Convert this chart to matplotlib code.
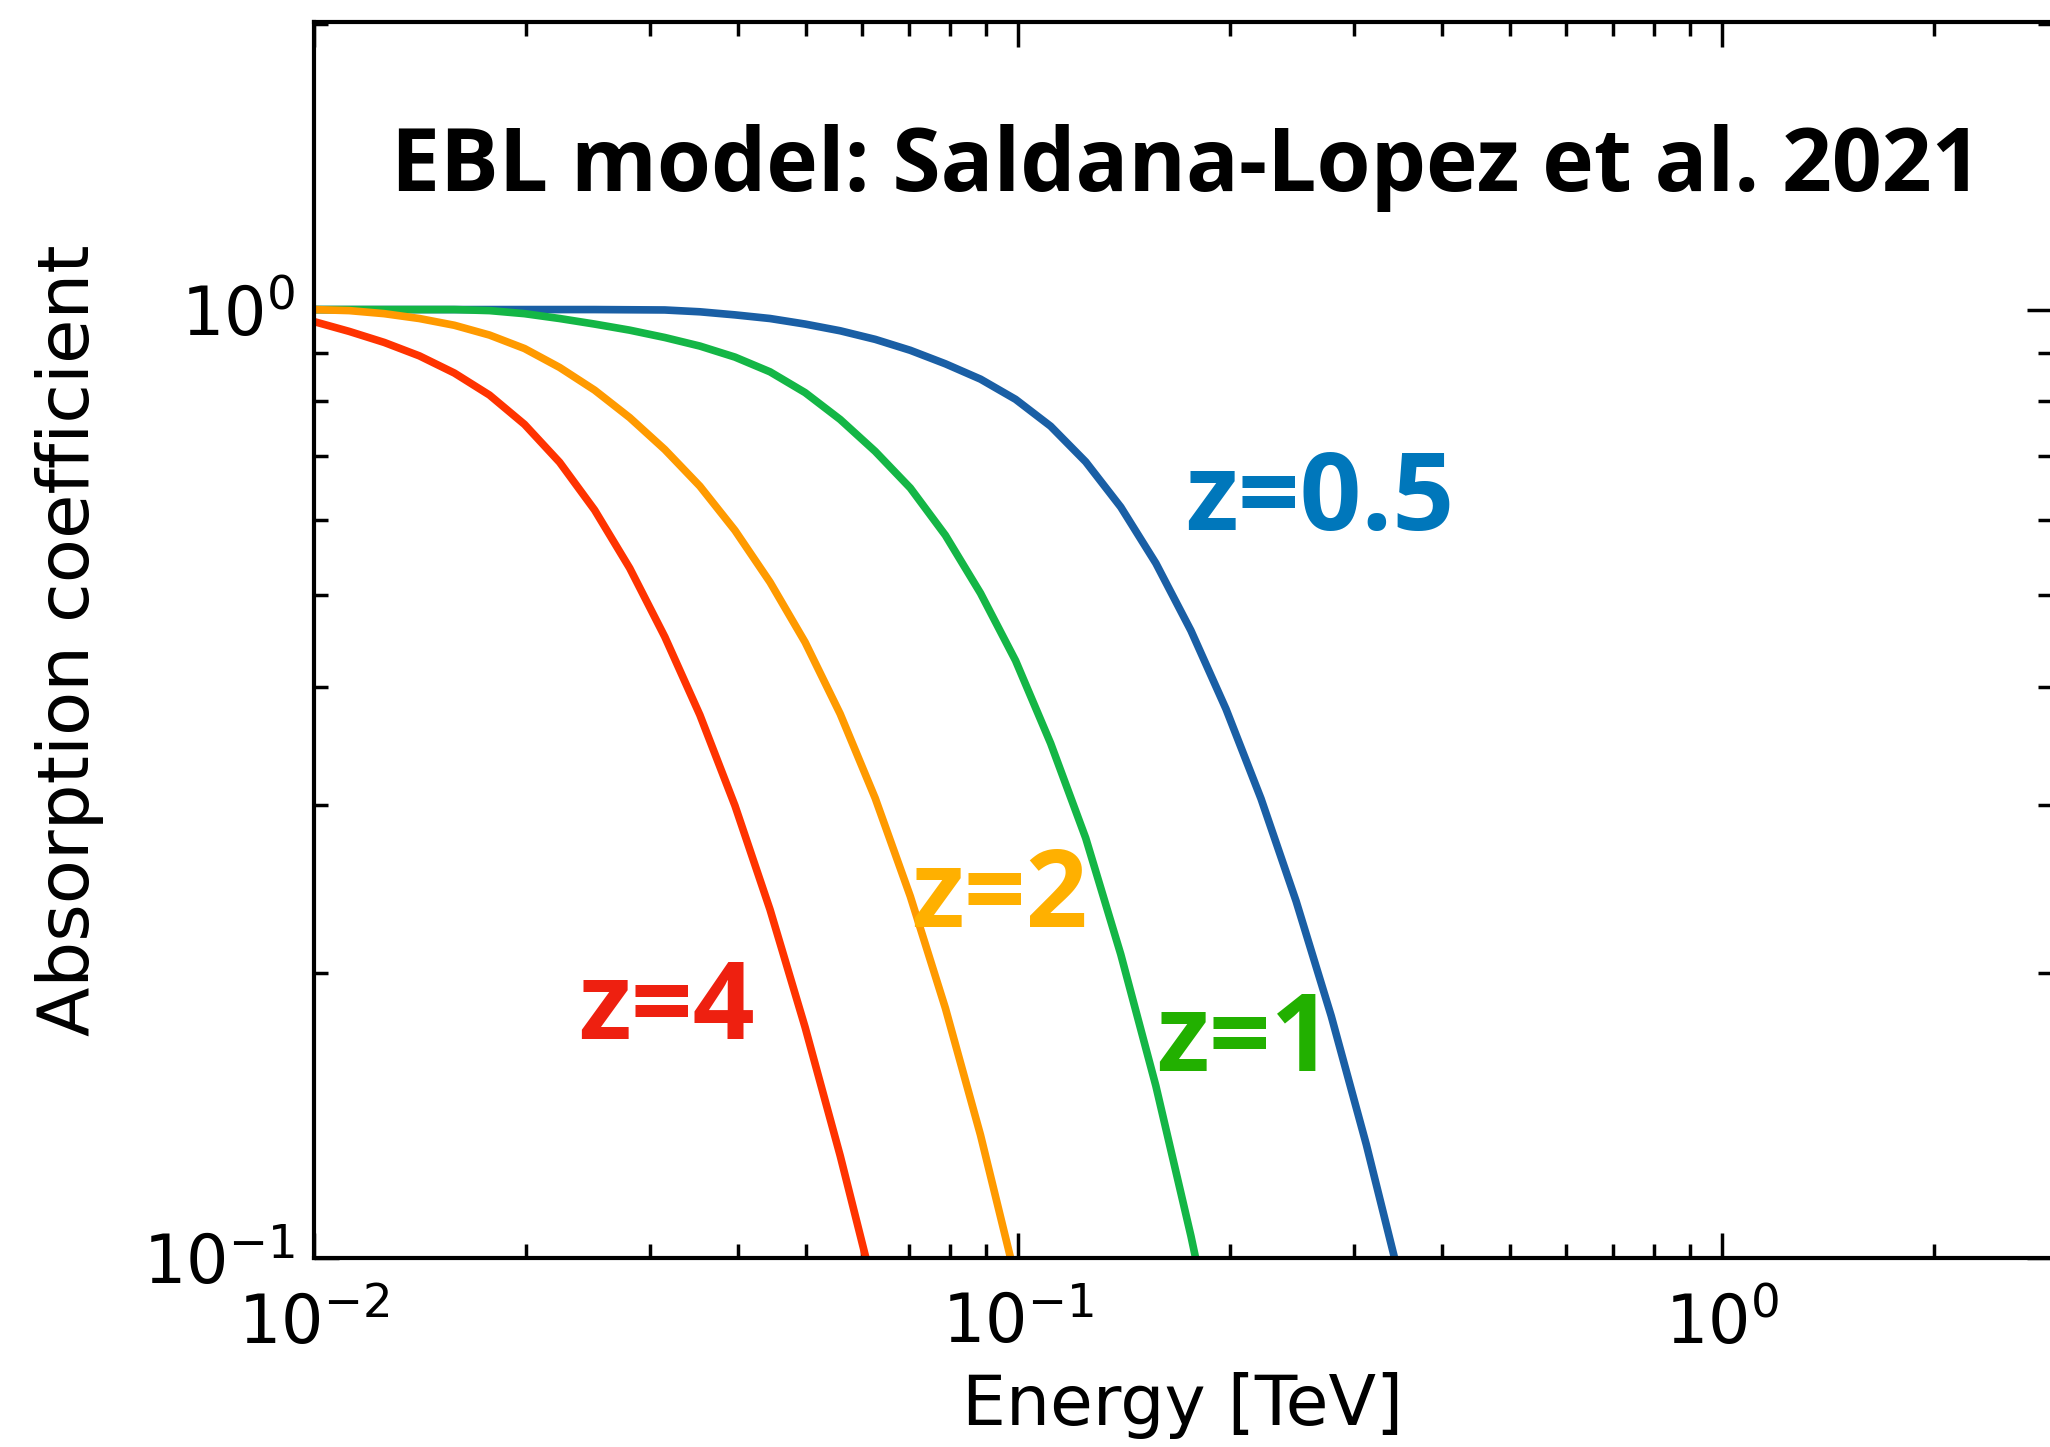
import matplotlib
matplotlib.use('Agg')
import matplotlib.pyplot as plt

# gamma-ray absorption exp(-tau) vs energy [TeV] for four source redshifts
energy_z05 = [0.01, 0.025037, 0.031496, 0.035326, 0.03962, 0.044437, 0.04984, 0.055899,
              0.062688, 0.070311, 0.078862, 0.088454, 0.0992, 0.11126, 0.12479, 0.13996,
              0.15697, 0.17606, 0.19745, 0.22146, 0.2484, 0.27862, 0.31248, 0.3504]
absorb_z05 = [1.0, 1.0, 0.999, 0.9946, 0.9872, 0.9785, 0.9654, 0.9498,
              0.9302, 0.9058, 0.8766, 0.8446, 0.8042, 0.7534, 0.691, 0.6191,
              0.5402, 0.4587, 0.3792, 0.3049, 0.2377, 0.1799, 0.1317, 0.0936]

energy_z1 = [0.01, 0.01258, 0.015823, 0.017749, 0.019906, 0.022327, 0.025037, 0.028083,
             0.031496, 0.035326, 0.03962, 0.044437, 0.04984, 0.055899, 0.062688, 0.070311,
             0.078862, 0.088454, 0.0992, 0.11126, 0.12479, 0.13996, 0.15697, 0.17606,
             0.19745]
absorb_z1 = [1.0, 1.0, 1.0, 0.9975, 0.9901, 0.9785, 0.9654, 0.9512,
             0.9344, 0.9152, 0.891, 0.8597, 0.8174, 0.7658, 0.7087, 0.6484,
             0.5781, 0.5023, 0.4265, 0.3489, 0.2772, 0.209, 0.1519, 0.1055,
             0.0707]

energy_z2 = [0.01, 0.011216, 0.01258, 0.014111, 0.015823, 0.017749, 0.019906, 0.022327,
             0.025037, 0.028083, 0.031496, 0.035326, 0.03962, 0.044437, 0.04984, 0.055899,
             0.062688, 0.070311, 0.078862, 0.088454, 0.0992]
absorb_z2 = [1.0, 0.9975, 0.9901, 0.9785, 0.9626, 0.94, 0.9097, 0.8689,
             0.8223, 0.7692, 0.7119, 0.6513, 0.585, 0.5159, 0.4459, 0.3747,
             0.3053, 0.2406, 0.1834, 0.1348, 0.0952]

energy_z4 = [0.01, 0.011216, 0.01258, 0.014111, 0.015823, 0.017749, 0.019906, 0.022327,
             0.025037, 0.028083, 0.031496, 0.035326, 0.03962, 0.044437, 0.04984, 0.055899,
             0.062688]
absorb_z4 = [0.9712, 0.9484, 0.9233, 0.8937, 0.8572, 0.8126, 0.7567, 0.6902,
             0.6146, 0.5337, 0.4518, 0.3737, 0.2999, 0.233, 0.1751, 0.1282,
             0.0914]

plt.rcParams['xtick.direction'] = 'in'
plt.rcParams['ytick.direction'] = 'in'

fig = plt.figure(figsize=(20.5, 14.47), dpi=100)
ax = fig.add_axes([0.1532, 0.1306, 0.8478, 0.8542])

ax.plot(energy_z05, absorb_z05, color='#1a5fa5', lw=5.5)
ax.plot(energy_z1, absorb_z1, color='#14b646', lw=5.5)
ax.plot(energy_z2, absorb_z2, color='#ff9a00', lw=5.5)
ax.plot(energy_z4, absorb_z4, color='#ff3300', lw=5.5)

ax.set_xscale('log')
ax.set_yscale('log')
ax.set_xlim(0.01, 2.944)
ax.set_ylim(0.1, 2.01)

for s in ax.spines.values():
    s.set_linewidth(3)
ax.tick_params(which='both', top=True, right=True, labelsize=48, width=2.5)
ax.tick_params(axis='x', pad=24)
ax.tick_params(axis='y', pad=14)
ax.tick_params(which='major', length=18)
ax.tick_params(which='minor', length=10)

ax.set_xlabel('Energy [TeV]', fontsize=50, labelpad=10)
ax.set_ylabel('Absorption coefficient', fontsize=52, labelpad=28)

lbl = dict(family='Open Sans', fontweight='bold', fontsize=78, ha='left', va='baseline')
ax.text(0.1726, 0.586, 'z=0.5', color='#0077bb', **lbl)
ax.text(0.157, 0.1574, 'z=1', color='#22b000', **lbl)
ax.text(0.0705, 0.2233, 'z=2', color='#ffb000', **lbl)
ax.text(0.0237, 0.170, 'z=4', color='#ee2010', **lbl)

fig.text(391 / 2050, 1 - 190.5 / 1447, 'EBL model: Saldana-Lopez et al. 2021',
         family='Open Sans', fontweight='bold', fontsize=63, ha='left', va='baseline')

fig.savefig('out.png', dpi=100)
